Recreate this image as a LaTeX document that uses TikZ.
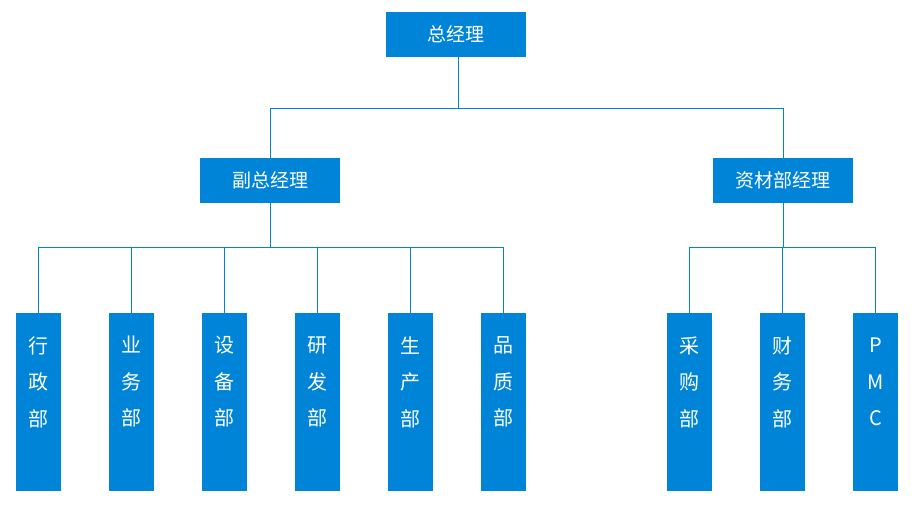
\documentclass[tikz,border=0pt]{standalone}
\usepackage{fontspec}
\newfontfamily\cjk{Noto Sans CJK SC}
\definecolor{boxblue}{RGB}{0,132,216}
\begin{document}
\begin{tikzpicture}[x=1pt,y=-1pt,
 box/.style={fill=boxblue, inner sep=0, minimum width=140pt, minimum height=45pt, font=\cjk\fontsize{19}{19}\selectfont, text=white},
 dept/.style={fill=boxblue, inner sep=0, minimum width=45pt, minimum height=178pt},
 dtext/.style={text=white, font=\cjk\fontsize{20}{36.5}\selectfont, align=center, anchor=center, inner sep=0},
 link/.style={draw=boxblue, line width=0.9pt}]
\useasboundingbox (0,0) rectangle (916,518);
\node[box] (gm) at (456,34.5) {总经理};
\node[box] (vp) at (270,180.5) {副总经理};
\node[box] (mm) at (783,180.5) {资材部经理};
\foreach \n/\x/\t in {d1/38.5/{行\\政\\部}, d2/131.5/{业\\务\\部}, d3/224.5/{设\\备\\部}, d4/317.5/{研\\发\\部}, d5/410.5/{生\\产\\部}, d6/503.5/{品\\质\\部}, d7/689.5/{采\\购\\部}, d8/782.5/{财\\务\\部}, d9/875.5/{P\\M\\C}}{
  \node[dept] (\n) at (\x,402) {};
  \node[dtext] (\n t) at (\x,382) {\t};
}
\coordinate (bus1) at (0,108);
\coordinate (bus2) at (0,247);
\coordinate (gmout) at ([xshift=2pt]gm.south);
\draw[link] (gmout) -- (gmout |- bus1) -| (vp.north);
\draw[link] (gmout |- bus1) -| (mm.north);
\foreach \n in {d1,d2,d3,d4,d5,d6}{
  \draw[link] (vp.south) -- (vp.south |- bus2) -| (\n.north);
}
\foreach \n in {d7,d8,d9}{
  \draw[link] (mm.south) -- (mm.south |- bus2) -| (\n.north);
}
\end{tikzpicture}
\end{document}
